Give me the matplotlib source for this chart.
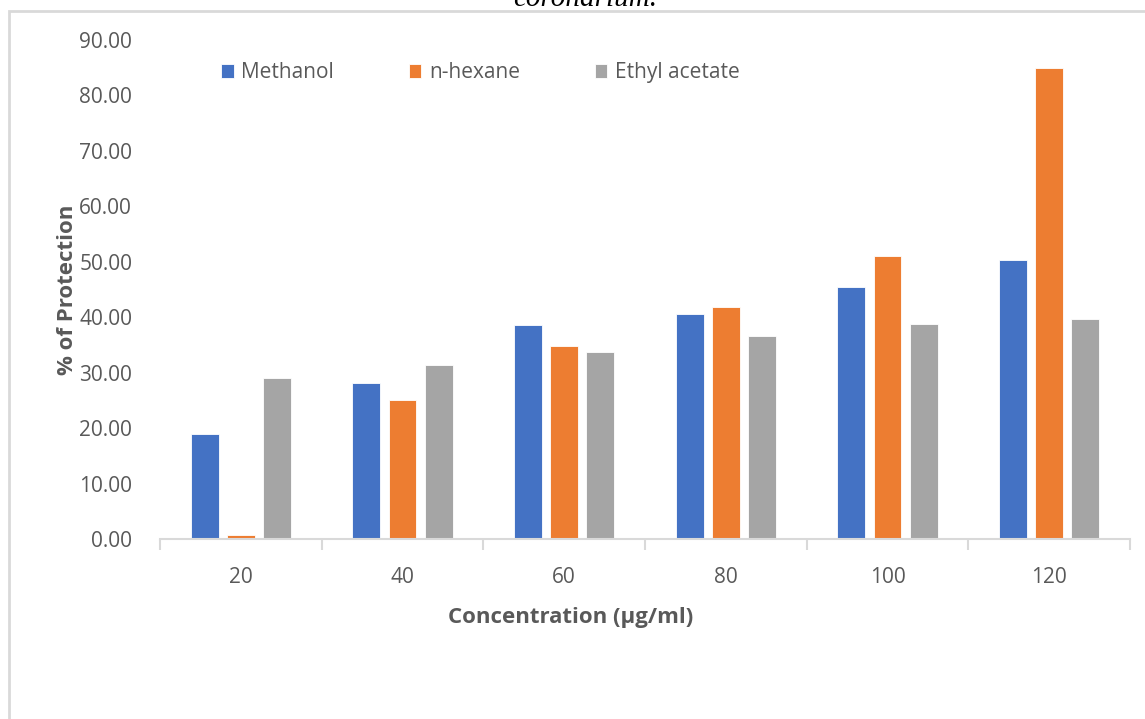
import matplotlib
matplotlib.use("Agg")
import matplotlib.pyplot as plt
import matplotlib.patches as mpatches
import numpy as np

# data
concentrations = ["20", "40", "60", "80", "100", "120"]
methanol = [19.0, 28.1, 38.6, 40.6, 45.4, 50.4]
n_hexane = [0.7, 25.1, 34.8, 41.8, 51.0, 84.9]
ethyl_acetate = [29.0, 31.4, 33.7, 36.6, 38.8, 39.7]
series_names = ["Methanol", "n-hexane", "Ethyl acetate"]
y_ticks = np.arange(0, 91, 10)

colors = ["#4472c4", "#ed7d31", "#a5a5a5"]
text_color = "#595959"
line_color = "#d9d9d9"

plt.rcParams["font.family"] = ["Open Sans", "DejaVu Sans"]

fig = plt.figure(figsize=(11.45, 7.19), dpi=100)
ax = fig.add_axes([160 / 1145, 1 - 539 / 719, (1130 - 160) / 1145, (539 - 40) / 719])

# chart frame, cut off on the right and bottom
frame = mpatches.Rectangle((9 / 1145, -0.2), 1.2, 1.2 - 11 / 719, transform=fig.transFigure,
                           fill=False, edgecolor=line_color, linewidth=2, zorder=0)
fig.patches.append(frame)

x = np.arange(len(concentrations))
width = 0.173
step = 0.223
for i, (vals, name) in enumerate(zip([methanol, n_hexane, ethyl_acetate], series_names)):
    ax.bar(x + (i - 1) * step, vals, width, color=colors[i], label=name,
           edgecolor="white", linewidth=0.6, zorder=2)

ax.set_xlim(-0.5, len(concentrations) - 0.5)
ax.set_ylim(0, 90)
ax.set_yticks(y_ticks)
ax.set_yticklabels([f"{v:.2f}" for v in y_ticks])
ax.set_xticks(x)
ax.set_xticklabels(concentrations)
ax.set_xticks(np.arange(-0.5, len(concentrations)), minor=True)

for s in ["top", "right", "left"]:
    ax.spines[s].set_visible(False)
ax.spines["bottom"].set_color(line_color)
ax.spines["bottom"].set_linewidth(1.5)

ax.tick_params(axis="x", which="major", length=0, pad=20, labelsize=15, labelcolor=text_color)
ax.tick_params(axis="x", which="minor", length=8, width=1.5, color=line_color)
ax.tick_params(axis="y", length=0, pad=20, labelsize=15, labelcolor=text_color)

ax.set_xlabel("Concentration (µg/ml)", fontsize=16, fontweight="bold", color=text_color)
ax.xaxis.set_label_coords(0.423, -0.136)
ax.set_ylabel("% of Protection", fontsize=16, fontweight="bold", color=text_color, labelpad=1)

ax.legend(loc="upper left", bbox_to_anchor=(0.044, 0.993), ncol=3, frameon=False,
          fontsize=15, labelcolor=text_color, handlelength=0.6, handleheight=0.6,
          handletextpad=0.35, columnspacing=3.6)

fig.text(0.511, 1.002, "coronarium.", fontsize=21, style="italic",
         family=["Liberation Serif", "DejaVu Serif"], ha="center", va="center", color="black")

fig.savefig("out.png", dpi=100, facecolor="white")
